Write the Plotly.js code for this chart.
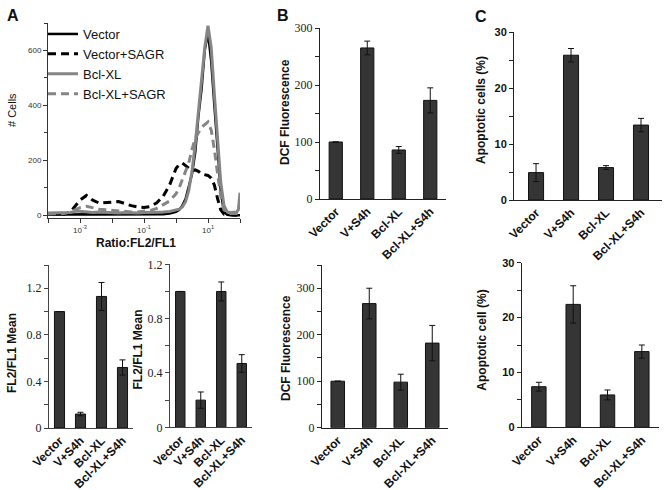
<!DOCTYPE html>
<html><head><meta charset="utf-8">
<script src="https://cdn.plot.ly/plotly-3.0.1.min.js"></script>
<style>html,body{margin:0;padding:0;background:#fff}</style>
</head><body><div id="chart" style="width:665px;height:490px"></div>
<script>
// ---------- Data ----------
const groups = ["Vector", "V+S4h", "Bcl-XL", "Bcl-XL+S4h"];

// Panel A histogram (x = FL2/FL1 ratio, y = # cells)
const histRatio = [0.0001, 0.00032, 0.0005, 0.00079, 0.001, 0.0016, 0.0025, 0.004, 0.0063, 0.01,
  0.016, 0.025, 0.04, 0.063, 0.1, 0.16, 0.25, 0.4, 0.63, 1,
  1.26, 1.58, 2, 2.5, 3.16, 4, 5, 6.3, 7.9, 10,
  12.6, 15.8, 20, 25, 31.6, 40, 50, 63, 79, 89, 100];
const histVector = [2, 3, 3, 5, 4, 4, 3, 3, 3, 3, 3, 2, 2, 2, 2, 2, 3, 4, 6, 12,
  20, 35, 60, 100, 150, 230, 360, 460, 600, 665, 560, 400, 220, 90, 12, 2, 1, 0, 0, 0, 0];
const histVectorSAGR = [3, 4, 12, 40, 55, 72, 55, 44, 45, 48, 50, 42, 35, 30, 28, 32, 45, 70, 110, 170,
  185, 190, 180, 170, 162, 165, 160, 150, 148, 145, 135, 110, 60, 20, 4, 2, 1, 0, 0, 0, 0];
const histBclXL = [8, 8, 10, 15, 14, 12, 10, 12, 10, 8, 8, 10, 8, 8, 10, 10, 10, 12, 14, 18,
  22, 30, 50, 90, 160, 260, 380, 480, 610, 690, 610, 440, 270, 120, 35, 12, 10, 10, 12, 20, 82];
const histBclXLSAGR = [5, 6, 12, 22, 28, 33, 28, 22, 20, 18, 15, 14, 12, 12, 14, 18, 25, 38, 52, 78,
  100, 130, 160, 190, 240, 280, 300, 320, 330, 340, 310, 240, 150, 70, 20, 8, 6, 6, 6, 6, 6];
const histTickVals = [0.001, 0.1, 10];
const histTickText = ["10<sup>-3</sup>", "10<sup>-1</sup>", "10<sup>1</sup>"];
const histMinorVals = [0.0001, 0.01, 1, 100];

// Panel A bar charts (FL2/FL1 Mean)
const aMean1 = [1.0, 0.12, 1.13, 0.52];
const aErr1 = [0, 0.015, 0.12, 0.065];
const aMean2 = [1.0, 0.20, 1.0, 0.47];
const aErr2 = [0, 0.06, 0.07, 0.065];

// Panel B (DCF Fluorescence)
const bDcf1 = [100, 265, 86, 173];
const bErr1 = [0, 12, 6, 22];
const bDcf2 = [100, 267, 98, 182];
const bErr2 = [0, 33, 17, 38];

// Panel C (Apoptotic cells %)
const cApo1 = [4.9, 25.9, 5.8, 13.4];
const cErr1 = [1.6, 1.2, 0.35, 1.2];
const cApo2 = [7.4, 22.4, 5.9, 13.8];
const cErr2 = [0.8, 3.4, 0.9, 1.2];

// ---------- Helpers ----------
const W = 665, H = 490;
const fx = p => p / W;
const fy = p => 1 - p / H;
const SANS = "Liberation Sans, Arial, sans-serif";
const SERIF = "Liberation Serif, Times New Roman, serif";
const BAR_FILL = "#353535";

function barTrace(y, err, xa, ya, width) {
  return {
    type: "bar", x: groups, y: y, xaxis: xa, yaxis: ya, width: width, showlegend: false,
    marker: { color: BAR_FILL, line: { color: "#111", width: 1 } },
    error_y: { type: "data", array: err, visible: true, color: "#111", thickness: 1, width: 3 },
    hoverinfo: "skip"
  };
}
function barX(x0, x1, anchor, range, lc) {
  return {
    domain: [fx(x0), fx(x1)], anchor: anchor, type: "category", range: range,
    showline: true, linecolor: lc || "#222", linewidth: 1, ticks: "", tickangle: -45,
    tickfont: { family: SANS, size: 12, color: "#111", weight: "bold" },
    showgrid: false, zeroline: false, fixedrange: true
  };
}
function barY(top, bottom, anchor, range, dtick, minor, font, lc) {
  return {
    domain: [fy(bottom), fy(top)], anchor: anchor, range: range, dtick: dtick, tick0: 0,
    showline: true, linecolor: lc || "#222", linewidth: 1, ticks: "outside", ticklen: 4,
    tickcolor: lc || "#222",
    minor: { dtick: minor, ticks: "outside", ticklen: 4, tickcolor: lc || "#222" },
    tickfont: font, showgrid: false, zeroline: false, fixedrange: true
  };
}

// ---------- Traces ----------
const grey = "#858585";
const traces = [
  { type: "scatter", mode: "lines", x: histRatio, y: histVector, name: "Vector",
    line: { color: "#000", width: 2.5 }, xaxis: "x", yaxis: "y" },
  { type: "scatter", mode: "lines", x: histRatio, y: histVectorSAGR, name: "Vector+SAGR",
    line: { color: "#000", width: 3, dash: "8px,5px" }, xaxis: "x", yaxis: "y" },
  { type: "scatter", mode: "lines", x: histRatio, y: histBclXL, name: "Bcl-XL",
    line: { color: grey, width: 3 }, xaxis: "x", yaxis: "y" },
  { type: "scatter", mode: "lines", x: histRatio, y: histBclXLSAGR, name: "Bcl-XL+SAGR",
    line: { color: grey, width: 3, dash: "8px,5px" }, xaxis: "x", yaxis: "y" },
  barTrace(aMean1, aErr1, "x2", "y2", 0.48),
  barTrace(aMean2, aErr2, "x3", "y3", 0.46),
  barTrace(bDcf1, bErr1, "x4", "y4", 0.42),
  barTrace(bDcf2, bErr2, "x5", "y5", 0.43),
  barTrace(cApo1, cErr1, "x6", "y6", 0.43),
  barTrace(cApo2, cErr2, "x7", "y7", 0.42)
];

const serifFont = { family: SERIF, size: 12, color: "#222" };
const boldSans = { family: SANS, size: 11, color: "#111", weight: "bold" };

function ann(text, x, y, size, angle, bold) {
  return { text: text, xref: "paper", yref: "paper", x: fx(x), y: fy(y),
    xanchor: "center", yanchor: "middle", showarrow: false, textangle: angle || 0,
    font: { family: SANS, size: size, color: "#111", weight: bold ? "bold" : "normal" } };
}

const layout = {
  width: W, height: H, margin: { l: 0, r: 0, t: 0, b: 0 },
  paper_bgcolor: "#fff", plot_bgcolor: "rgba(0,0,0,0)",
  showlegend: true,
  legend: { x: fx(43), y: fy(19), xanchor: "left", yanchor: "top",
    bgcolor: "rgba(0,0,0,0)", font: { family: SANS, size: 13, color: "#111" },
    tracegroupgap: 0, itemwidth: 30 },
  xaxis: { domain: [fx(48), fx(240)], anchor: "y", type: "log", range: [-4, 2],
    tickmode: "array", tickvals: histTickVals, ticktext: histTickText, ticks: "outside", ticklen: 4,
    minor: { tickmode: "array", tickvals: histMinorVals, ticks: "outside", ticklen: 4, tickcolor: "#333" },
    showline: true, linecolor: "#333", linewidth: 1, tickcolor: "#333",
    tickfont: { family: SANS, size: 8, color: "#333" }, showgrid: false, zeroline: false, fixedrange: true },
  yaxis: { domain: [fy(218), fy(23)], anchor: "x", range: [-10, 700], tickvals: [0, 200, 400, 600],
    ticks: "outside", ticklen: 4, showline: true, linecolor: "#333", linewidth: 1, tickcolor: "#333",
    minor: { dtick: 100, tick0: 0, ticks: "outside", ticklen: 3, tickcolor: "#333" },
    tickfont: { family: SANS, size: 8, color: "#333" }, showgrid: false, zeroline: false, fixedrange: true },
  xaxis2: barX(49, 133, "y2", [-0.5, 3.5], "#444"),
  yaxis2: barY(265, 428, "x2", [0, 1.4], 0.4, 0.2, serifFont, "#444"),
  xaxis3: barX(170, 252, "y3", [-0.5, 3.5], "#444"),
  yaxis3: barY(264.3, 427.3, "x3", [0, 1.2], 0.4, 0.2, serifFont, "#444"),
  xaxis4: barX(320, 446, "y4", [-0.5, 3.5]),
  yaxis4: barY(28, 199, "x4", [0, 300], 100, 50, serifFont),
  xaxis5: barX(322, 448, "y5", [-0.5, 3.5]),
  yaxis5: barY(265, 427.7, "x5", [0, 350], 100, 50, serifFont),
  xaxis6: barX(514, 662, "y6", [-0.63, 3.6]),
  yaxis6: barY(32.3, 200, "x6", [0, 30], 10, 5, boldSans),
  xaxis7: barX(521.7, 659, "y7", [-0.5, 3.5]),
  yaxis7: barY(262.7, 427.3, "x7", [0, 30], 10, 5, boldSans),
  annotations: [
    ann("A", 12.5, 15, 16, 0, true),
    ann("B", 282.5, 16, 16, 0, true),
    ann("C", 481, 17, 16, 0, true),
    ann("# Cells", 12, 110, 11, -90, false),
    ann("Ratio:FL2/FL1", 135.5, 243, 12, 0, true),
    ann("FL2/FL1 Mean", 12, 353, 12, -90, true),
    ann("FL2/FL1 Mean", 137.5, 350, 12, -90, true),
    ann("DCF Fluorescence", 285, 112, 12, -90, true),
    ann("DCF Fluorescence", 286, 348, 12, -90, true),
    ann("Apoptotic cells (%)", 481, 110, 12, -90, true),
    ann("Apoptotic cell (%)", 481.7, 340, 12, -90, true)
  ]
};

Plotly.newPlot("chart", traces, layout, { staticPlot: true, displayModeBar: false });
</script>
</body></html>
